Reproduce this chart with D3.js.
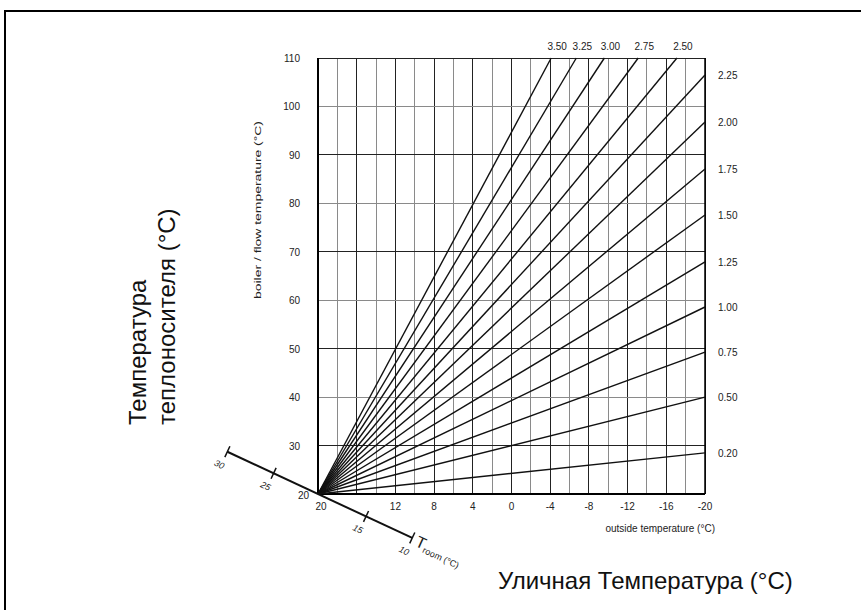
<!DOCTYPE html>
<html>
<head>
<meta charset="utf-8">
<script src="https://cdn.jsdelivr.net/npm/d3@7"></script>
<style>
  body { margin: 0; background: #fff; }
  text { font-family: "Liberation Sans", Arial, sans-serif; }
</style>
</head>
<body>
<div id="chart"></div>
<script>
// heating curves: all start at room 20 / flow 20
const curveNames = ["3.50", "3.25", "3.00", "2.75", "2.50", "2.25", "2.00", "1.75", "1.50", "1.25", "1.00", "0.75", "0.50", "0.20"]
const curveEndOutside = [-4.1, -6.7, -9.6, -13.1, -17.1, -20, -20, -20, -20, -20, -20, -20, -20, -20]
const curveEndFlow = [110, 110, 110, 110, 110, 106.5, 96.8, 87.1, 77.6, 67.9, 58.6, 49.3, 40.0, 28.5]

const outsideTicks = [20, 12, 8, 4, 0, -4, -8, -12, -16, -20]
const flowTicks = [110, 100, 90, 80, 70, 60, 50, 40, 30]
const roomTicks = [30, 25, 15, 10]

const width = 861, height = 610

const svg = d3.select("#chart").append("svg")
    .attr("width", width)
    .attr("height", height)

// outer frame (runs off the page right and bottom)
svg.append("rect")
    .attr("x", 5).attr("y", 11)
    .attr("width", 900).attr("height", 700)
    .attr("fill", "none")
    .attr("stroke", "#000")
    .attr("stroke-width", 2)

const xScale = d3.scaleLinear().domain([20, -20]).range([318, 705])
const yScale = d3.scaleLinear().domain([20, 110]).range([494, 58])

const grid = svg.append("g").attr("shape-rendering", "crispEdges")

grid.selectAll(".vl")
    .data(d3.range(20, -21, -2))
    .enter().append("line")
    .attr("x1", d => xScale(d)).attr("x2", d => xScale(d))
    .attr("y1", yScale(110)).attr("y2", yScale(20))
    .attr("stroke", (d, i) => i % 2 ? "#8a8a8a" : "#222")
    .attr("stroke-width", 1)

grid.selectAll(".hl")
    .data(d3.range(30, 111, 10))
    .enter().append("line")
    .attr("x1", xScale(20)).attr("x2", xScale(-20))
    .attr("y1", d => yScale(d)).attr("y2", d => yScale(d))
    .attr("stroke", (d, i) => i % 2 ? "#8a8a8a" : "#222")
    .attr("stroke-width", 1)

// axes frame lines
svg.append("line")
    .attr("x1", xScale(20)).attr("x2", xScale(20))
    .attr("y1", yScale(110)).attr("y2", yScale(20))
    .attr("stroke", "#000").attr("stroke-width", 2)
svg.append("line")
    .attr("x1", xScale(20)).attr("x2", xScale(-20))
    .attr("y1", yScale(20)).attr("y2", yScale(20))
    .attr("stroke", "#000").attr("stroke-width", 2)
svg.append("line")
    .attr("x1", xScale(-20)).attr("x2", xScale(-20))
    .attr("y1", yScale(110)).attr("y2", yScale(20))
    .attr("stroke", "#000").attr("stroke-width", 1.5)

// curves
const lineGenerator = d3.line()
    .x(d => xScale(d[0]))
    .y(d => yScale(d[1]))

svg.append("g").selectAll("path")
    .data(curveNames)
    .enter().append("path")
    .attr("d", (d, i) => lineGenerator([[20, 20], [curveEndOutside[i], curveEndFlow[i]]]))
    .attr("fill", "none")
    .attr("stroke", "#111")
    .attr("stroke-width", 1.4)

// curve labels
svg.append("g").selectAll("text")
    .data(curveNames)
    .enter().append("text")
    .attr("x", (d, i) => curveEndFlow[i] >= 110 ? xScale(curveEndOutside[i]) + 6 : 718)
    .attr("y", (d, i) => curveEndFlow[i] >= 110 ? 50 : yScale(curveEndFlow[i]) + 4)
    .attr("text-anchor", (d, i) => curveEndFlow[i] >= 110 ? "middle" : "start")
    .attr("font-size", 10)
    .attr("fill", "#222")
    .text(d => d)

// tick labels
svg.append("g").selectAll("text")
    .data(flowTicks)
    .enter().append("text")
    .attr("x", 300)
    .attr("y", d => yScale(d) + 4)
    .attr("text-anchor", "end")
    .attr("font-size", 10)
    .attr("fill", "#222")
    .text(d => d)
svg.append("text")
    .attr("x", 309).attr("y", yScale(20) + 5)
    .attr("text-anchor", "end").attr("font-size", 10).attr("fill", "#222")
    .text("20")

svg.append("g").selectAll("text")
    .data(outsideTicks)
    .enter().append("text")
    .attr("x", d => d === 20 ? xScale(d) + 3 : xScale(d))
    .attr("y", yScale(20) + 16)
    .attr("text-anchor", "middle")
    .attr("font-size", 10)
    .attr("fill", "#222")
    .text(d => d)

svg.append("text")
    .attr("x", 715).attr("y", 532)
    .attr("text-anchor", "end")
    .attr("font-size", 10)
    .attr("fill", "#222")
    .text("outside temperature (°C)")

svg.append("text")
    .attr("transform", "translate(261,210) rotate(-90)")
    .attr("text-anchor", "middle")
    .attr("font-size", 9)
    .attr("textLength", 178)
    .attr("lengthAdjust", "spacingAndGlyphs")
    .attr("fill", "#222")
    .text("boiler / flow temperature (°C)")

// room temperature axis
const roomScale = d3.scaleLinear().domain([30, 10]).range([-100, 104])
const room = svg.append("g")
    .attr("transform", `translate(${xScale(20)},${yScale(20)}) rotate(25)`)

room.append("line")
    .attr("x1", roomScale(30)).attr("x2", roomScale(10))
    .attr("stroke", "#111").attr("stroke-width", 2)

room.selectAll(".tick")
    .data(roomTicks)
    .enter().append("line")
    .attr("x1", d => roomScale(d)).attr("x2", d => roomScale(d))
    .attr("y1", -6).attr("y2", 6)
    .attr("stroke", "#111").attr("stroke-width", 1.5)

room.selectAll(".lab")
    .data(roomTicks)
    .enter().append("text")
    .attr("x", d => roomScale(d) - 2)
    .attr("y", 18)
    .attr("text-anchor", "middle")
    .attr("font-size", 9)
    .attr("font-style", "italic")
    .attr("fill", "#222")
    .text(d => d)

const tLabel = room.append("text")
    .attr("x", roomScale(10) + 5)
    .attr("y", 6)
    .attr("fill", "#222")
tLabel.append("tspan").attr("font-size", 16).text("T")
tLabel.append("tspan").attr("font-size", 9).attr("dy", 3).text("room (°C)")

// big Russian labels
svg.append("text")
    .attr("transform", "translate(146,425) rotate(-90)")
    .attr("font-size", 24)
    .attr("fill", "#111")
    .text("Температура")
svg.append("text")
    .attr("transform", "translate(175,425) rotate(-90)")
    .attr("font-size", 24)
    .attr("fill", "#111")
    .text("теплоносителя (°C)")

svg.append("text")
    .attr("x", 498).attr("y", 589)
    .attr("font-size", 24)
    .attr("fill", "#111")
    .text("Уличная Температура (°C)")
</script>
</body>
</html>
